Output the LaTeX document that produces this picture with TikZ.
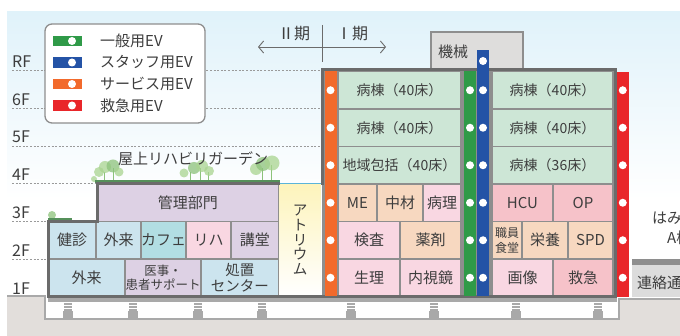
\documentclass[tikz,border=0pt]{standalone}
\usepackage{fontspec}
\setmainfont{Noto Sans CJK JP}
\usetikzlibrary{arrows.meta}

\definecolor{ink}{HTML}{3D3D3D}
\definecolor{wallgrey}{HTML}{8E8E8E}
\definecolor{outlinegrey}{HTML}{6B6B6B}
\definecolor{floorgrey}{HTML}{9A9A9A}
\definecolor{slabgrey}{HTML}{A9A9A9}
\definecolor{linkgrey}{HTML}{DCDCDC}
\definecolor{sky}{HTML}{E0F2FA}
\definecolor{ground}{HTML}{E2DEDB}
\definecolor{wardgreen}{HTML}{CDE6D6}
\definecolor{peach}{HTML}{F7D8C0}
\definecolor{pinklt}{HTML}{F9D7E2}
\definecolor{pinkdk}{HTML}{F6C2C9}
\definecolor{bluelt}{HTML}{CCE4EE}
\definecolor{cafeteal}{HTML}{B2DEE3}
\definecolor{lilac}{HTML}{DDD1E4}
\definecolor{plantroom}{HTML}{DEDDDC}
\definecolor{atrium}{HTML}{FDF4BC}
\definecolor{glass}{HTML}{5AB4D9}
\definecolor{evgreen}{HTML}{2F9A48}
\definecolor{evblue}{HTML}{2453A6}
\definecolor{evorange}{HTML}{F26A2C}
\definecolor{evred}{HTML}{E9262A}
\definecolor{leaf}{HTML}{A9D490}
\definecolor{leafdark}{HTML}{8CC27A}
\definecolor{grass}{HTML}{55905A}

\tikzset{
  room/.style={draw=wallgrey, line width=1.5pt, inner sep=0pt, minimum height=37.5pt,
    text=ink, align=center, font=\fontsize{15}{16}\selectfont},
  ward/.style={room, fill=wardgreen, font=\fontsize{14}{16}\selectfont},
  shaft/.style={inner sep=0pt, minimum width=12pt},
  floorline/.style={draw=floorgrey, line width=0.6pt, dash pattern=on 2pt off 1.6pt},
  floorlabel/.style={anchor=west, inner sep=0pt, text=ink, font=\fontsize{16}{16}\selectfont},
  keybar/.style={inner sep=0pt, minimum width=29pt, minimum height=10.5pt},
  keytext/.style={anchor=west, inner sep=0pt, text=ink, font=\fontsize{15}{15}\selectfont},
  phasearrow/.style={draw=outlinegrey, line width=0.9pt, -{Straight Barb[length=5pt,width=12pt]}},
  plain/.style={inner sep=0pt, text=ink, font=\fontsize{15}{16}\selectfont},
  outline/.style={draw=outlinegrey, line width=3pt, line join=miter},
  isolator/.style={fill=slabgrey},
  foliage/.style={fill=leaf, opacity=.75},
  trunk/.style={draw=leafdark, line width=0.8pt},
}

\begin{document}
\begin{tikzpicture}[x=1pt,y=-1pt]
\useasboundingbox (0,0) rectangle (680,336);
\clip (0,0) rectangle (680,336);

% sky and ground
\shade[top color=sky, bottom color=white] (7,12) rectangle (680,200);
\fill[ground] (7,296) -- (45,296) -- (45,319) -- (619,319) -- (619,299)
  -- (680,299) -- (680,336) -- (7,336) -- cycle;
\draw[draw=slabgrey, line width=1.8pt] (7,296) -- (45,296) -- (45,319)
  -- (619,319) -- (619,299) -- (680,299);

% floor levels
\draw[floorline] (12,70) -- (322,70);
\draw[floorline] (12,108) -- (322,108);
\draw[floorline] (12,146) -- (322,146);
\draw[floorline] (12,183) -- (97,183);
\draw[floorline] (12,221) -- (48,221);
\draw[floorline] (12,259) -- (48,259);

\node[floorlabel] (lvR) at (12,62) {RF};
\node[floorlabel] (lv6) at (12,100) {6F};
\node[floorlabel] (lv5) at (12,137) {5F};
\node[floorlabel] (lv4) at (12,175) {4F};
\node[floorlabel] (lv3) at (12,213) {3F};
\node[floorlabel] (lv2) at (12,251) {2F};
\node[floorlabel] (lv1) at (12,289) {1F};

% legend
\draw[draw=wallgrey, fill=white, line width=1.3pt, rounded corners=7pt] (45,24) rectangle (205,123);
\node[keybar, fill=evgreen] (kGeneral) at (67.5,41) {};
\node[keybar, fill=evblue] (kStaff) at (67.5,62.5) {};
\node[keybar, fill=evorange] (kService) at (67.5,84) {};
\node[keybar, fill=evred] (kEmerg) at (67.5,105.5) {};
\fill[white] ([xshift=4.5pt]kGeneral.center) circle (4pt);
\fill[white] ([xshift=4.5pt]kStaff.center) circle (4pt);
\fill[white] ([xshift=4.5pt]kService.center) circle (4pt);
\fill[white] ([xshift=4.5pt]kEmerg.center) circle (4pt);
\node[keytext] (tGeneral) at (100,41) {一般用EV};
\node[keytext] (tStaff) at (100,62.5) {スタッフ用EV};
\node[keytext] (tService) at (100,84) {サービス用EV};
\node[keytext] (tEmerg) at (100,105.5) {救急用EV};

% phase split
\node[plain, font=\fontsize{16}{16}\selectfont] (phaseII) at (294,34) {Ⅱ期};
\node[plain, font=\fontsize{16}{16}\selectfont] (phaseI) at (352,34) {Ⅰ期};
\coordinate (splitTop) at (322,25);
\coordinate (splitBot) at (322,62);
\coordinate (split) at (322,47);
\coordinate (westEnd) at (258,47);
\coordinate (eastEnd) at (386,47);
\draw[draw=outlinegrey, line width=0.9pt] (splitTop) -- (splitBot);
\draw[phasearrow] (split) -- (westEnd);
\draw[phasearrow] (split) -- (eastEnd);

% roof garden
\draw[trunk] (104,182) -- (104,172) (113,182) -- (113,168) (190,182) -- (190,172)
  (200,182) -- (200,168) (208,182) -- (208,172) (262,182) -- (262,168) (271,182) -- (271,165);
\fill[foliage] (99,172) circle (5pt);
\fill[foliage] (105,167) circle (6pt);
\fill[foliage, fill=leafdark] (113,166) circle (6.5pt);
\fill[foliage] (119,172) circle (4.5pt);
\fill[foliage] (184,173) circle (4.5pt);
\fill[foliage, fill=leafdark] (194,168) circle (6pt);
\fill[foliage] (202,166) circle (6pt);
\fill[foliage] (209,171) circle (5pt);
\fill[foliage] (256,169) circle (6pt);
\fill[foliage, fill=leafdark] (263,164) circle (7pt);
\fill[foliage] (272,163) circle (7.5pt);
\fill[foliage, fill=leafdark] (52,215) circle (4pt);
\fill[foliage] (94,179) circle (3pt);
\draw[grass, line width=2.2pt] (95,181.5) -- (280,181.5);
\draw[grass, line width=2pt] (48,219.5) -- (72,219.5);
\node[plain] (garden) at (193,159) {屋上リハビリガーデン};

% machine room on the roof
\node[draw=wallgrey, fill=plantroom, line width=1.5pt, inner sep=0pt,
  minimum width=92pt, minimum height=38pt] (machine) at (477,51) {};
\node[plain, anchor=west] (machineLabel) at (438,52) {機械};

% phase I block
\fill[wallgrey] (322,70) rectangle (615,297);
\node[ward, minimum width=123pt] (w6) at (399.5,90.25) {病棟（40床）};
\node[ward, minimum width=123pt] (w5) at (399.5,127.75) {病棟（40床）};
\node[ward, minimum width=123pt] (w4) at (399.5,165.25) {地域包括（40床）};
\node[room, fill=peach, minimum width=39pt] (me) at (357.5,202.75) {ME};
\node[room, fill=peach, minimum width=46pt] (supply) at (400,202.75) {中材};
\node[room, fill=pinklt, minimum width=38pt] (patho) at (442,202.75) {病理};
\node[room, fill=pinklt, minimum width=62pt] (lab) at (369,240.25) {検査};
\node[room, fill=peach, minimum width=61pt] (pharm) at (430.5,240.25) {薬剤};
\node[room, fill=pinklt, minimum width=62pt] (physio) at (369,277.75) {生理};
\node[room, fill=pinklt, minimum width=61pt] (endo) at (430.5,277.75) {内視鏡};

\node[ward, minimum width=121pt] (e6) at (552.5,90.25) {病棟（40床）};
\node[ward, minimum width=121pt] (e5) at (552.5,127.75) {病棟（40床）};
\node[ward, minimum width=121pt] (e4) at (552.5,165.25) {病棟（36床）};
\node[room, fill=pinkdk, minimum width=61pt] (hcu) at (522.5,202.75) {HCU};
\node[room, fill=pinkdk, minimum width=60pt] (op) at (583,202.75) {OP};
\node[room, fill=peach, minimum width=30pt, font=\fontsize{12}{14.5}\selectfont] (canteen) at (507,240.25) {職員\\食堂};
\node[room, fill=peach, minimum width=46pt] (kitchen) at (545,240.25) {栄養};
\node[room, fill=peach, minimum width=45pt] (spd) at (590.5,240.25) {SPD};
\node[room, fill=pinklt, minimum width=61pt] (imaging) at (522.5,277.75) {画像};
\node[room, fill=pinkdk, minimum width=60pt] (er) at (583,277.75) {救急};

% phase II block
\node[room, fill=lilac, minimum width=181.5pt] (admin) at (187.75,202.75) {管理部門};
\node[room, fill=bluelt, minimum width=48pt] (checkup) at (72,240.25) {健診};
\node[room, fill=bluelt, minimum width=45pt] (outA) at (118.5,240.25) {外来};
\node[room, fill=cafeteal, minimum width=45pt] (cafe) at (163.5,240.25) {カフェ};
\node[room, fill=pinklt, minimum width=45pt] (rehab) at (208.5,240.25) {リハ};
\node[room, fill=lilac, minimum width=47.5pt] (hall) at (254.75,240.25) {講堂};
\node[room, fill=bluelt, minimum width=77pt] (outB) at (86.5,277.75) {外来};
\node[room, fill=lilac, minimum width=76pt, font=\fontsize{12.5}{14}\selectfont] (support) at (163,277.75) {医事・\\患者サポート};
\node[room, fill=bluelt, minimum width=77.5pt, font=\fontsize{14.5}{15.5}\selectfont] (treat) at (239.75,277.75) {処置\\センター};

% atrium
\shade[top color=atrium, bottom color=white] (279.3,185) rectangle (320.5,295.5);
\node[plain, align=center, font=\fontsize{14.5}{14.8}\selectfont] (atriumLabel) at (300,240) {ア\\ト\\リ\\ウ\\ム};

% building outline
\draw[outline] (280,183.5) -- (97,183.5) -- (97,221.5) -- (48,221.5) -- (48,297)
  -- (615,297) -- (615,70) -- (322,70) -- (322,185);
\draw[draw=glass, line width=1.6pt] (280,183.5) -- (320.5,183.5);
\fill[slabgrey] (48,298.5) rectangle (617,302.5);

% seismic isolators
\foreach \x in {68,133,198,262,351,434,516,598} {
  \fill[isolator] (\x-4,303.5) rectangle (\x+4,311);
  \draw[white, line width=0.6pt] (\x-4,305.5) -- (\x+4,305.5) (\x-4,308) -- (\x+4,308);
  \fill[isolator] (\x-5,311) rectangle (\x+5,318);
}

% elevator shafts
\node[shaft, fill=evorange, minimum height=225pt] (evService) at (330.5,184) {};
\node[shaft, fill=evgreen, minimum height=225pt] (evGeneral) at (470,184) {};
\node[shaft, fill=evblue, minimum height=246.5pt] (evStaff) at (483,173.25) {};
\node[shaft, fill=evred, minimum width=12.5pt, minimum height=225pt] (evEmerg) at (622.75,184.5) {};
\fill[white] (evStaff |- 0,61) circle (4pt);
\foreach \y in {90.25,127.75,165.25,202.75,240.25,277.75} {
  \fill[white] (evService |- 0,\y) circle (4pt);
  \fill[white] (evGeneral |- 0,\y) circle (4pt);
  \fill[white] (evStaff |- 0,\y) circle (4pt);
  \fill[white] (evEmerg |- 0,\y) circle (4pt);
}

% neighbouring buildings
\fill[linkgrey] (632,261) rectangle (680,297);
\fill[wallgrey] (632,259) rectangle (680,265);
\node[plain, anchor=west] (link) at (637,283) {連絡通路};
\node[plain, anchor=west] (annexA) at (652,218) {はみ};
\node[plain, anchor=west] (annexB) at (667,238) {A棟};
\end{tikzpicture}
\end{document}
